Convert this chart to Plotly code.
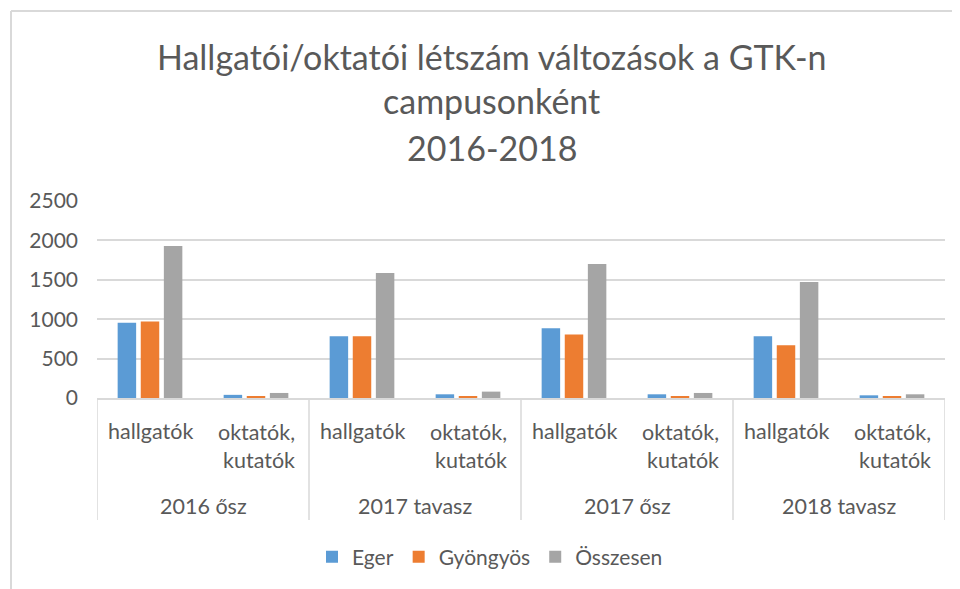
import plotly.graph_objects as go

# ---- data ----
periods = ["2016 ősz", "2017 tavasz", "2017 ősz", "2018 tavasz"]
roles = ["hallgatók", "oktatók,<br>kutatók"]
series_names = ["Eger", "Gyöngyös", "Összesen"]
eger = [955, 40, 785, 47, 885, 47, 785, 34]
gyongyos = [970, 22, 785, 22, 805, 20, 670, 20]
osszesen = [1930, 64, 1585, 81, 1700, 64, 1472, 47]
y_ticks = [0, 500, 1000, 1500, 2000, 2500]
title_lines = ["Hallgatói/oktatói létszám változások a GTK-n", "campusonként", "2016-2018"]

colors = ["#5B9BD5", "#ED7D31", "#A5A5A5"]
FONT = "Lato"
TXT = "#595959"
GRID = "#D9D9D9"

# page has an 8px body margin: figure origin sits at page (8, 8)
OFF = 8
W, H = 960, 589
# desired page-pixel geometry of the plot area
PL, PR, PT, PB = 97, 945, 201, 398
L, T = PL - OFF, PT - OFF
R = W - (PR - OFF)
B = H - (PB - OFF)
PW, PH = PR - PL, PB - PT


def py(pix):
    """page pixel y -> paper y"""
    return (PB - pix) / PH


def px(pix):
    """page pixel x -> paper x"""
    return (pix - PL) / PW


n_roles = len(roles)
xpos = [i * n_roles + j for i in range(len(periods)) for j in range(n_roles)]

fig = go.Figure()
for name, vals, c in zip(series_names, [eger, gyongyos, osszesen], colors):
    fig.add_trace(go.Bar(x=xpos, y=vals, name=name, marker=dict(color=c, line=dict(width=0))))

annotations = []
# title
for line, pix in zip(title_lines, [56.5, 100.5, 147.5]):
    annotations.append(dict(text=line, xref="paper", yref="paper", x=px(491.5), y=py(pix),
                            xanchor="center", yanchor="middle", showarrow=False,
                            font=dict(family=FONT, size=34, color=TXT)))
# category labels
for i, per in enumerate(periods):
    for j, role in enumerate(roles):
        xi = i * n_roles + j
        nlines = role.count("<br>") + 1
        ypix = 431 if nlines == 1 else 445.5
        annotations.append(dict(text=role, xref="x", yref="paper", x=xi, y=py(ypix),
                                xanchor="center", yanchor="middle", showarrow=False, align="right",
                                font=dict(family=FONT, size=21.5, color=TXT)))
    annotations.append(dict(text=per, xref="x", yref="paper", x=i * n_roles + (n_roles - 1) / 2,
                            y=py(505.5), xanchor="center", yanchor="middle", showarrow=False,
                            font=dict(family=FONT, size=21.5, color=TXT)))

shapes = []
for i in range(len(periods) + 1):
    xd = i * n_roles - 0.5
    shapes.append(dict(type="line", xref="x", yref="paper", x0=xd, x1=xd, y0=0, y1=py(520),
                       line=dict(color=GRID, width=1.5)))
# outer chart border (top and left visible)
shapes.append(dict(type="line", xref="paper", yref="paper", x0=px(11), x1=px(975), y0=py(11), y1=py(11),
                   line=dict(color=GRID, width=2)))
shapes.append(dict(type="line", xref="paper", yref="paper", x0=px(11), x1=px(11), y0=py(11), y1=py(610),
                   line=dict(color=GRID, width=2)))

fig.update_layout(
    width=W, height=H,
    margin=dict(l=L, r=R, t=T, b=B, pad=0),
    paper_bgcolor="white", plot_bgcolor="white",
    barmode="group", bargap=0.346, bargroupgap=0.2,
    font=dict(family=FONT, color=TXT, size=21),
    showlegend=True,
    legend=dict(orientation="h", x=px(490), y=py(557), xanchor="center", yanchor="middle",
                font=dict(family=FONT, size=21, color=TXT), itemwidth=30, traceorder="normal"),
    annotations=annotations,
    shapes=shapes,
)
fig.update_xaxes(range=[-0.5, len(xpos) - 0.5], showticklabels=False, showgrid=False, zeroline=False,
                 showline=True, linecolor=GRID, linewidth=1.5, ticks="")
fig.update_yaxes(range=[0, y_ticks[-1]], tickvals=y_ticks, showgrid=True, gridcolor=GRID, gridwidth=1.5,
                 zeroline=False, showline=False, ticks="", ticklabelstandoff=18,
                 tickfont=dict(family=FONT, size=21, color=TXT))

fig.write_html("out.html")
